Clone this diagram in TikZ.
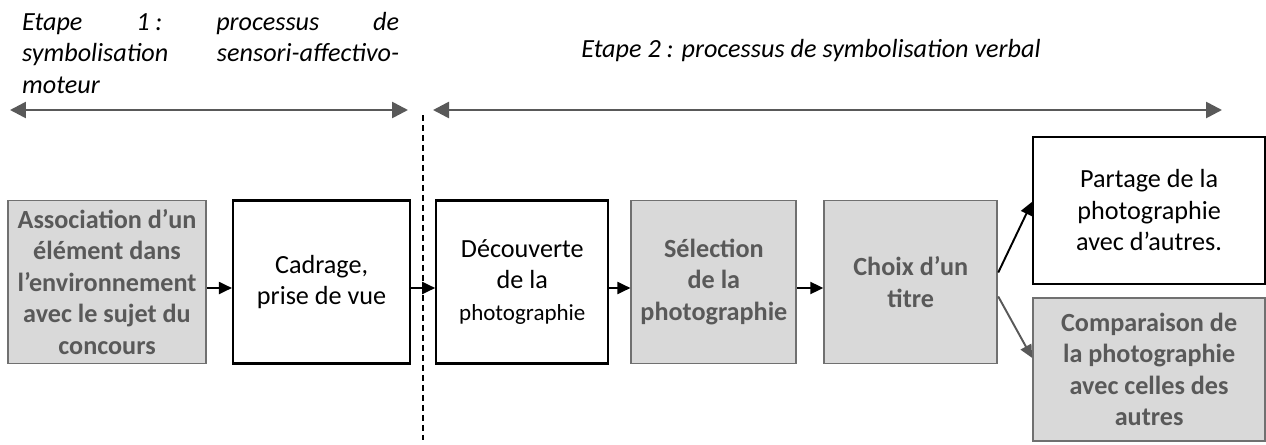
\documentclass[tikz,border=0pt]{standalone}
\usepackage{fontspec}
\setmainfont{Carlito}
\usepackage{tikz}
\usetikzlibrary{arrows.meta,positioning}
\definecolor{boxgrey}{HTML}{D9D9D9}
\definecolor{edgegrey}{HTML}{707070}
\definecolor{textgrey}{HTML}{595959}
\newcommand{\bodyfont}{\fontsize{14.9}{17.9}\selectfont}
\tikzset{
  plain_/.style  = {shape=rectangle, draw=black, line width=1.3pt, fill=white, align=center, inner sep=0pt},
  shaded_/.style = {shape=rectangle, draw=edgegrey, line width=1.1pt, fill=boxgrey, text=textgrey,
                    align=center, inner sep=0pt, font=\bodyfont\bfseries}
}

\begin{document}
\begin{tikzpicture}
  [
    x                 = 0.02cm,
    y                 = 0.02cm,
    every node/.style = {font=\bodyfont},
    flow/.style       = {draw, line width=1.1pt, -{Triangle[length=0.26cm,width=0.24cm]}},
    greyflow/.style   = {flow, draw=textgrey, fill=textgrey},
    span/.style       = {draw=textgrey, line width=1.5pt,
                         {Triangle[length=0.32cm,width=0.32cm]}-{Triangle[length=0.32cm,width=0.32cm]}}
  ]
  \useasboundingbox (0,0) rectangle (1266,444);

  \node [anchor=west, align=left, font=\bodyfont\itshape] (etape1) at (16,391)
    {\makebox[7.54cm][s]{Etape \mbox{1 :} processus de}\\
     \makebox[7.54cm][s]{symbolisation sensori-affectivo-}\\
     moteur};
  \node [font=\bodyfont\itshape] (etape2) at (811,393) {Etape 2 : processus de symbolisation verbal};

  \coordinate (s1a) at (10,334);
  \coordinate (s1b) at (408,334);
  \coordinate (s2a) at (433,334);
  \coordinate (s2b) at (1222,334);
  \draw [span] (s1a) -- (s1b);
  \draw [span] (s2a) -- (s2b);

  \coordinate (cut1) at (423,329);
  \coordinate (cut2) at (423,4);
  \draw [line width=0.6pt, dash pattern=on 0.12cm off 0.08cm] (cut1) -- (cut2);

  \node [shaded_, minimum width=3.96cm, minimum height=3.26cm] (assoc) at (107,162)
    {Association d’un\\élément dans\\l’environnement\\avec le sujet du\\concours};
  \node [plain_, minimum width=3.54cm, minimum height=3.26cm, right=0.5cm of assoc] (cadrage)
    {Cadrage,\\prise de vue};
  \node [plain_, minimum width=3.44cm, minimum height=3.26cm, right=0.48cm of cadrage] (decouverte)
    {Découverte\\de la\\{\fontsize{13.1}{17.9}\selectfont photographie}};
  \node [shaded_, minimum width=3.3cm, minimum height=3.26cm, right=0.42cm of decouverte] (selection)
    {Sélection\\de la\\photographie};
  \node [shaded_, minimum width=3.46cm, minimum height=3.26cm, right=0.52cm of selection] (choix)
    {Choix d’un\\titre};
  \node [plain_, minimum width=4.64cm, minimum height=2.94cm, anchor=south west] (partage) at (1032,159)
    {Partage de la\\photographie\\avec d’autres.};
  \node [shaded_, minimum width=4.64cm, minimum height=2.86cm, below=0.24cm of partage] (comparaison)
    {Comparaison de\\la photographie\\avec celles des\\autres};

  \draw [flow] ([yshift=-0.12cm]assoc.east) -- ([yshift=-0.12cm]cadrage.west);
  \draw [flow] ([yshift=-0.12cm]cadrage.east) -- ([yshift=-0.12cm]decouverte.west);
  \draw [flow] ([yshift=-0.12cm]decouverte.east) -- ([yshift=-0.12cm]selection.west);
  \draw [flow] ([yshift=-0.12cm]selection.east) -- ([yshift=-0.12cm]choix.west);
  \draw [flow] ([yshift=0.19cm]choix.east) -- ([yshift=0.17cm]partage.west);
  \draw [greyflow] ([yshift=-0.29cm]choix.east) -- ([yshift=0.23cm]comparaison.west);
\end{tikzpicture}
\end{document}
